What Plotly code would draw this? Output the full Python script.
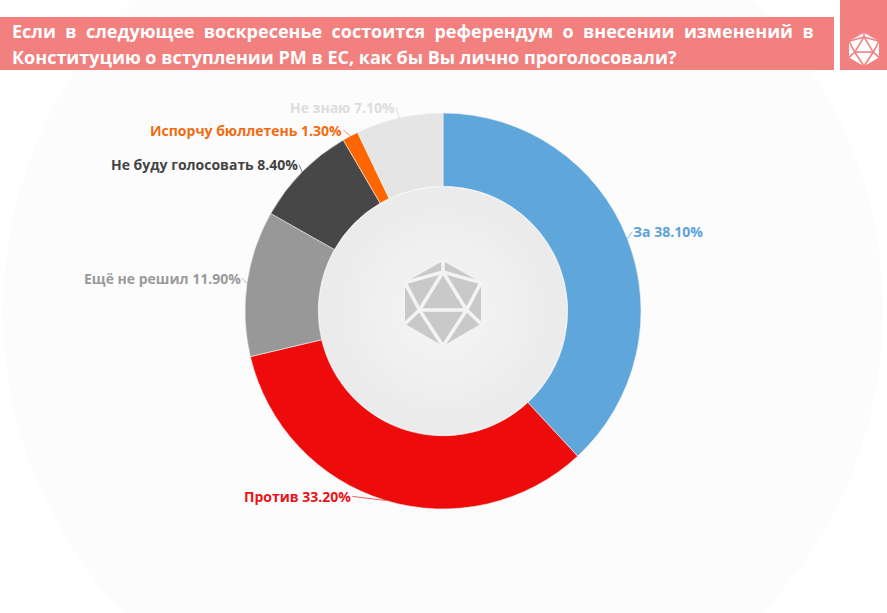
import math
import plotly.graph_objects as go

W, H = 887, 613

labels = ['За', 'Против', 'Ещё не решил', 'Не буду голосовать',
          'Испорчу бюллетень', 'Не знаю']
values = [38.10, 33.20, 11.90, 8.40, 1.30, 7.10]
slice_colors = ['#5fa6da', '#ee0b0b', '#989898', '#474747', '#ff6600', '#e5e5e5']
text_colors = ['#5ba3d8', '#e8141a', '#9a9a9a', '#444444', '#f26a10', '#dcdcdc']

title_lines = [
    'Если в следующее воскресенье состоится референдум о внесении изменений в',
    'Конституцию о вступлении РМ в ЕС, как бы Вы лично проголосовали?',
]

# pie placement in pixels
cx, cy, R = 443, 311, 198
# label offsets from the slice edge (pixels), leader line style
label_offsets = [(5, -7), (-33, -4), (-5, -5), (-3, -7), (-7, -6), (-3, -10)]


def px(x):
    return x / W


def py(y):
    return 1 - y / H


def circle(r, color):
    return dict(type='circle', xref='paper', yref='paper', layer='below',
                x0=px(cx - r), x1=px(cx + r), y0=py(cy + r), y1=py(cy - r),
                fillcolor=color, line=dict(width=0))


def icon(x0, y0, w, fill, stroke, lw):
    # icosahedron logo built from a hexagon and white edges
    def p(a, b):
        return (px(x0 + a * w), py(y0 + b * w))
    hexv = [p(0, -1.12), p(1, -0.55), p(1, 0.53), p(0, 1.12), p(-1, 0.53), p(-1, -0.55)]
    path = 'M ' + ' L '.join(f'{a},{b}' for a, b in hexv) + ' Z'
    shapes = [dict(type='path', xref='paper', yref='paper', layer='below', path=path,
                   fillcolor=fill, line=dict(width=0))]
    apex, bl, br = p(0, -0.83), p(-0.62, 0.17), p(0.62, 0.17)
    top, ur, lr, bot, ll, ul = hexv
    edges = [(apex, bl), (bl, br), (br, apex), (apex, top), (apex, ul), (apex, ur),
             (bl, ul), (bl, ll), (bl, bot), (br, ur), (br, lr), (br, bot)]
    for a, b in edges:
        shapes.append(dict(type='line', xref='paper', yref='paper', layer='below',
                           x0=a[0], y0=a[1], x1=b[0], y1=b[1],
                           line=dict(color=stroke, width=lw)))
    return shapes


fig = go.Figure()

fig.add_trace(go.Pie(
    labels=labels, values=values,
    hole=0.63, sort=False, direction='clockwise', rotation=0,
    marker=dict(colors=slice_colors, line=dict(color='#f4f4f4', width=0.6)),
    textinfo='none',
    domain=dict(x=[px(cx - R), px(cx + R)], y=[py(cy + R), py(cy - R)]),
    showlegend=False, hoverinfo='skip'
))

shapes = [circle(440, '#fcfcfc')]
# soft gradient inside the hole
steps = 14
for i in range(steps):
    r = 124 - i * 124 / steps
    g = int(0xeb + (0xf6 - 0xeb) * i / (steps - 1))
    shapes.append(circle(r, f'rgb({g},{g},{g})'))
shapes += icon(443, 303.5, 38, '#c9c9c9', '#f4f4f4', 3.5)
# title banner and logo box
shapes.append(dict(type='rect', xref='paper', yref='paper', layer='below',
                   x0=0, x1=px(834), y0=py(70), y1=py(17),
                   fillcolor='#f1807f', line=dict(width=0)))
shapes.append(dict(type='rect', xref='paper', yref='paper', layer='below',
                   x0=px(840), x1=1, y0=py(70), y1=1,
                   fillcolor='#f1807f', line=dict(width=0)))
shapes += icon(864, 49.5, 15, '#ffffff', '#f1807f', 1.6)

line1 = ' \u00a0'.join(title_lines[0].split(' '))
annotations = [
    dict(xref='paper', yref='paper', x=px(10), y=py(31), xanchor='left', yanchor='middle',
         text=f'<b>{line1}</b>', showarrow=False,
         font=dict(family='Open Sans', size=18, color='white')),
    dict(xref='paper', yref='paper', x=px(10), y=py(57), xanchor='left', yanchor='middle',
         text=f'<b>{title_lines[1]}</b>', showarrow=False,
         font=dict(family='Open Sans', size=18, color='white')),
]

# outside labels with short leader lines, anchored at each slice's mid angle
total = sum(values)
start = 0.0
for lab, val, col, (ax, ay) in zip(labels, values, text_colors, label_offsets):
    theta = 2 * math.pi * (start + val / 2) / total
    start += val
    ex, ey = cx + R * math.sin(theta), cy - R * math.cos(theta)
    annotations.append(dict(
        xref='paper', yref='paper', x=px(ex), y=py(ey),
        ax=ax, ay=ay, showarrow=True, arrowhead=0, arrowwidth=0.7,
        arrowcolor=col if col != '#dcdcdc' else '#cfcfcf',
        xanchor='left' if ax > 0 else 'right', yanchor='middle',
        text=f'<b>{lab} {val:.2f}%</b>',
        font=dict(family='Open Sans', size=14, color=col),
        borderpad=0,
    ))

fig.update_layout(
    width=W, height=H,
    margin=dict(l=0, r=0, t=0, b=0),
    paper_bgcolor='white',
    shapes=shapes,
    annotations=annotations,
)

fig.write_html('out.html', config={'displayModeBar': False},
               post_script="document.body.style.margin='0';")
